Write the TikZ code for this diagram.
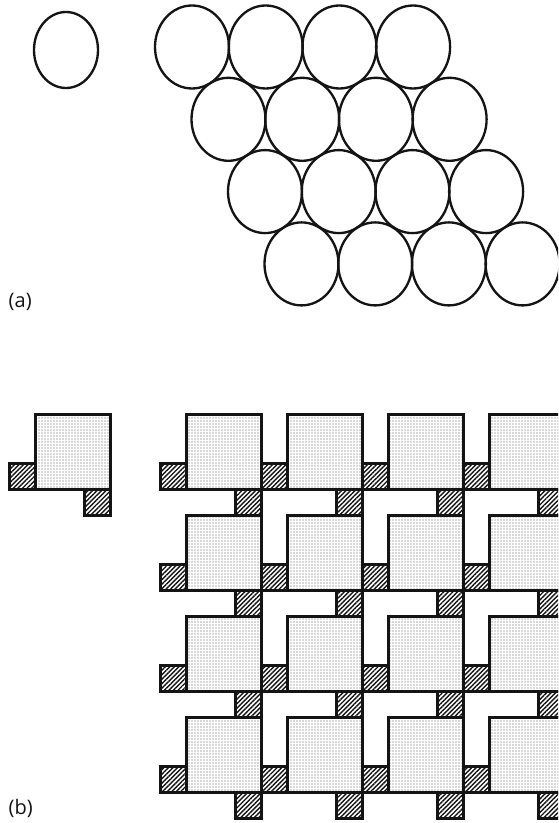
\documentclass[tikz,border=0pt]{standalone}
\usepackage{fontspec}
\setmainfont{Open Sans}
\usetikzlibrary{patterns.meta}
\definecolor{ink}{HTML}{141414}
\definecolor{dotgrey}{HTML}{5A5A5A}
\newcommand{\bigside}{75}
\newcommand{\smallside}{26}
\newcommand{\tilepiece}[2]{%
    \draw[bigsq]   (#1,#2) rectangle ++(\bigside,\bigside);
    \draw[smallsq] (#1,#2+\bigside) rectangle ++(-\smallside,-\smallside);
    \draw[smallsq] (#1+\bigside,#2+\bigside) rectangle ++(-\smallside,\smallside);
}

\begin{document}
\begin{tikzpicture}[
    x=0.75pt, y=-0.75pt,
    every node/.style={font=\fontsize{15}{17}\selectfont, text=ink},
    ring/.style={draw=ink, line width=1.75pt},
    bigsq/.style={draw=ink, line width=1.75pt,
                  pattern={Dots[distance=2.25pt, radius=0.45pt]}, pattern color=dotgrey},
    smallsq/.style={draw=ink, line width=1.75pt,
                    pattern={Lines[angle=45, distance=2.4pt, line width=1.05pt]}, pattern color=ink},
]

\useasboundingbox (0,0) rectangle (558,823);
\clip (0,0) rectangle (558,823);

\def\dx{73.7}
\def\dy{72.3}
\def\pitch{101}

% --- (a): one disc, then the packed rows ---
\draw[ring] (66,50) ellipse [x radius=32, y radius=38];
\foreach \r in {0,...,3}
  \foreach \c in {0,...,3}
    \draw[ring] (192+36.5*\r+\dx*\c, 47+\dy*\r) ellipse [x radius=37, y radius=41.5];

\node[anchor=west] (labela) at (4,302) {(a)};

% --- (b): one tile, then the tiling ---
\tilepiece{35.5}{414.5}
\foreach \r in {0,...,3}
  \foreach \c in {0,...,3}
    {\tilepiece{186.5+\pitch*\c}{414.5+\pitch*\r}}

\node[anchor=west] (labelb) at (4,808) {(b)};

\end{tikzpicture}
\end{document}
